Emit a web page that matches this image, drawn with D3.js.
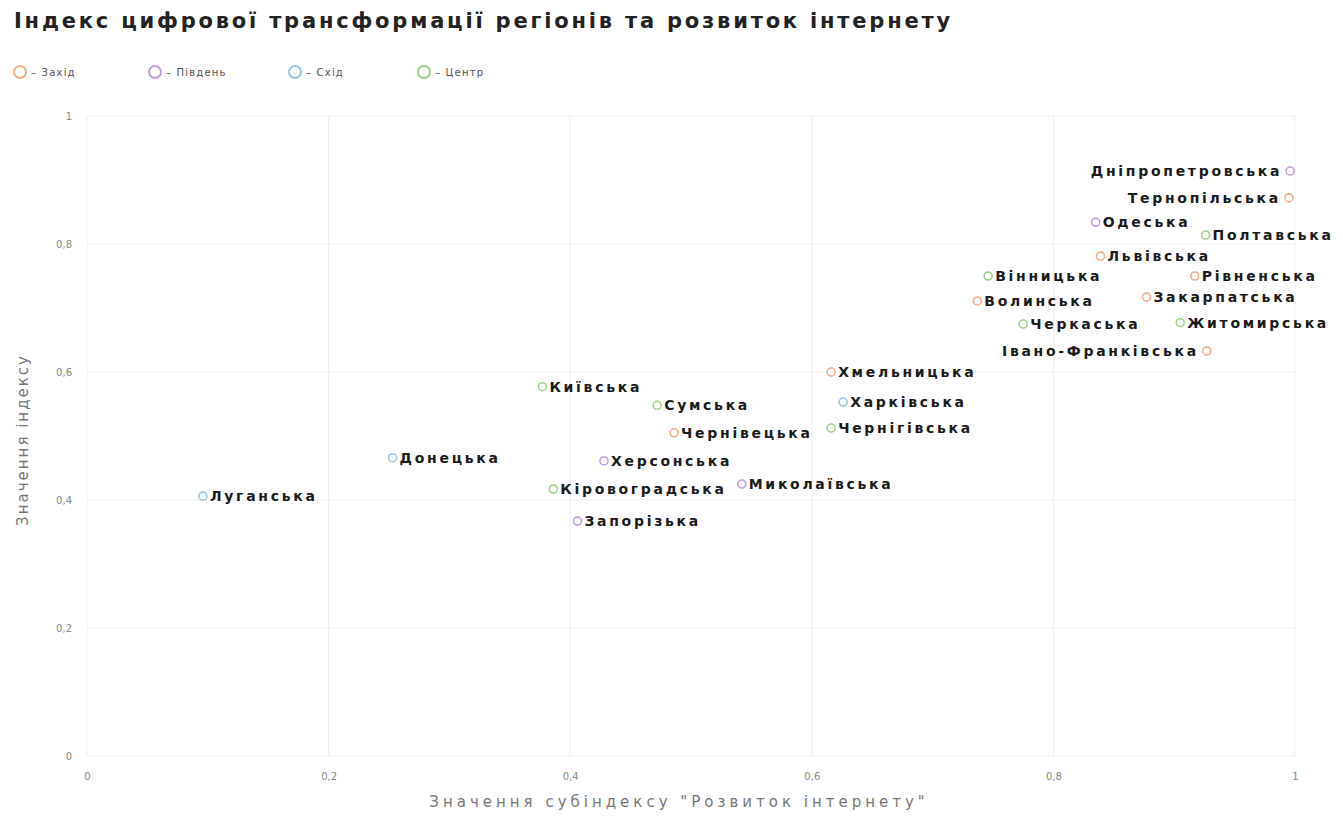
<!DOCTYPE html>
<html>
<head>
<meta charset="utf-8">
<script src="https://cdn.jsdelivr.net/npm/d3@7"></script>
<style>
  body { margin: 0; background: #fff; }
  svg { display: block; }
</style>
</head>
<body>
<svg id="chart" width="1343" height="817"></svg>
<script>
const regions = ["Захід", "Південь", "Схід", "Центр"];
const regionColors = ["#f3ad86", "#c69ae6", "#98c6ee", "#9dd487"];
const names = ["Дніпропетровська","Тернопільська","Одеська","Полтавська","Львівська","Вінницька","Рівненська","Закарпатська","Волинська","Житомирська","Черкаська","Івано-Франківська","Хмельницька","Харківська","Чернігівська","Київська","Сумська","Чернівецька","Херсонська","Кіровоградська","Миколаївська","Запорізька","Донецька","Луганська"];
const internetValues = [0.996,0.995,0.835,0.926,0.839,0.746,0.917,0.877,0.737,0.905,0.775,0.927,0.616,0.626,0.616,0.377,0.472,0.486,0.428,0.386,0.542,0.406,0.253,0.096];
const indexValues = [0.914,0.872,0.834,0.814,0.781,0.750,0.750,0.717,0.711,0.677,0.675,0.633,0.600,0.553,0.5125,0.577,0.548,0.505,0.461,0.417,0.425,0.367,0.466,0.406];
const pointRegions = ["Південь","Захід","Південь","Центр","Захід","Центр","Захід","Захід","Захід","Центр","Центр","Захід","Захід","Схід","Центр","Центр","Центр","Захід","Південь","Центр","Південь","Південь","Схід","Схід"];
const leftLabels = ["Дніпропетровська","Тернопільська","Івано-Франківська"];
const xTicks = [0, 0.2, 0.4, 0.6, 0.8, 1];
const yTicks = [0, 0.2, 0.4, 0.6, 0.8, 1];
const title = "Індекс цифрової трансформації регіонів та розвиток інтернету";
const xTitle = "Значення субіндексу \"Розвиток інтернету\"";
const yTitle = "Значення індексу";

const FONT = "'DejaVu Sans', Verdana, sans-serif";
const svg = d3.select("#chart");
const x = d3.scaleLinear().domain([0, 1]).range([87, 1295]);
const y = d3.scaleLinear().domain([0, 1]).range([756, 116]);
const color = d3.scaleOrdinal().domain(regions).range(regionColors);
const fmt = v => String(v).replace(".", ",");

svg.append("text").attr("x", 14).attr("y", 28)
  .attr("font-family", FONT).attr("font-size", 21).attr("font-weight", 700)
  .attr("fill", "#222").attr("letter-spacing", 2.8).text(title);

// legend
const lx = [20, 155, 295, 424];
regions.forEach((r, i) => {
  const g = svg.append("g").attr("transform", `translate(${lx[i]},72)`);
  g.append("circle").attr("r", 6).attr("fill", "#fff").attr("stroke", color(r)).attr("stroke-width", 2);
  g.append("text").attr("x", 11).attr("y", 4).attr("font-family", FONT)
    .attr("font-size", 10).attr("letter-spacing", 1.2).attr("fill", "#555").text("– " + r);
});

// grid
svg.append("g").selectAll("line").data(xTicks).join("line")
  .attr("x1", d => x(d)).attr("x2", d => x(d)).attr("y1", y(1)).attr("y2", y(0))
  .attr("stroke", "#eeeeee").attr("stroke-width", 1);
svg.append("g").selectAll("line").data(yTicks).join("line")
  .attr("x1", x(0)).attr("x2", x(1)).attr("y1", d => y(d)).attr("y2", d => y(d))
  .attr("stroke", "#eeeeee").attr("stroke-width", 1);

// axes
const xAxis = svg.append("g").attr("transform", `translate(0,${y(0) + 14})`)
  .call(d3.axisBottom(x).tickValues(xTicks).tickFormat(fmt).tickSize(0));
xAxis.select(".domain").remove();
xAxis.selectAll("text").attr("font-family", FONT).attr("font-size", 10).attr("fill", "#888");
const yAxis = svg.append("g").attr("transform", `translate(${x(0) - 12},0)`)
  .call(d3.axisLeft(y).tickValues(yTicks).tickFormat(fmt).tickSize(0));
yAxis.select(".domain").remove();
yAxis.selectAll("text").attr("font-family", FONT).attr("font-size", 10).attr("fill", "#888");

svg.append("text").attr("x", 679).attr("y", 807).attr("text-anchor", "middle")
  .attr("font-family", FONT).attr("font-size", 15).attr("letter-spacing", 4)
  .attr("fill", "#777").text(xTitle);
svg.append("text").attr("transform", `translate(28,440) rotate(-90)`)
  .attr("text-anchor", "middle").attr("font-family", FONT).attr("font-size", 15)
  .attr("letter-spacing", 2).attr("fill", "#777").text(yTitle);

// points
const data = names.map((n, i) => ({ name: n, xv: internetValues[i], yv: indexValues[i], region: pointRegions[i] }));
const pts = svg.append("g").selectAll("g").data(data).join("g")
  .attr("transform", d => `translate(${x(d.xv)},${y(d.yv)})`);
pts.append("circle").attr("r", 4).attr("fill", "#fff")
  .attr("stroke", d => color(d.region)).attr("stroke-width", 1.6);
pts.append("text")
  .attr("x", d => leftLabels.includes(d.name) ? -8 : 7)
  .attr("y", 5)
  .attr("text-anchor", d => leftLabels.includes(d.name) ? "end" : "start")
  .attr("font-family", FONT).attr("font-size", 14).attr("font-weight", 700)
  .attr("letter-spacing", 2.7).attr("fill", "#1a1a1a").text(d => d.name);
</script>
</body>
</html>
